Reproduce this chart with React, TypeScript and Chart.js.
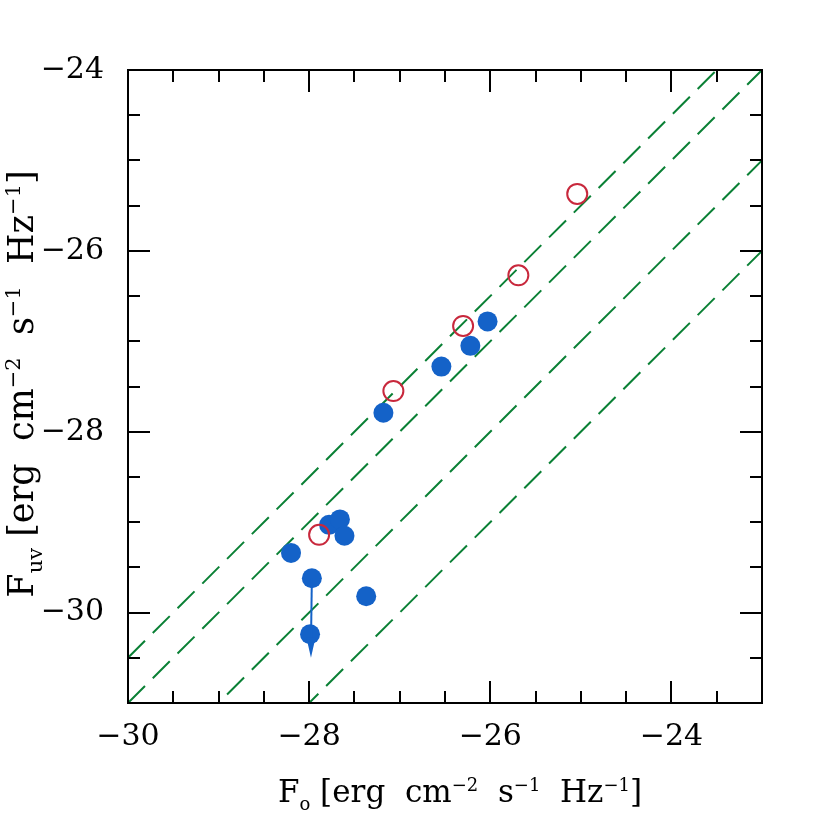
import React, { useEffect, useRef } from 'react';
import { Chart, registerables } from 'chart.js';
Chart.register(...registerables);

// Filled (detected) sources
const detectedX = [-27.18, -26.54, -26.22, -26.03, -28.2, -27.97, -27.99, -27.78, -27.66, -27.61, -27.37];
const detectedY = [-27.79, -27.28, -27.05, -26.78, -29.34, -29.62, -30.24, -29.03, -28.97, -29.15, -29.82];
// Open circles
const openX = [-25.04, -25.69, -26.3, -27.07, -27.89];
const openY = [-25.37, -26.27, -26.83, -27.55, -29.14];
// Dashed reference lines: F_UV = F_o + offset
const lineOffsets = [-0.5, -1, -2, -3];
// Axes
const xRange = [-30, -23];
const yRange = [-31, -24];
const xTickLabels = [-30, -28, -26, -24];
const yTickLabels = [-30, -28, -26, -24];
const minorStep = 0.5;
const majorStep = 2;
// Upper-limit arrow
const arrowStart = [-27.97, -29.62];
const arrowEnd = [-27.98, -30.5];

const BLUE = '#1462C8';
const RED = '#C8283C';
const GREEN = '#0A8035';
const FONT = '"DejaVu Serif", serif';

const fmt = (v: number) => (v < 0 ? '\u2212' + Math.abs(v) : String(v));

const unitSegs = (B: number, S: number, up: number) => [
  { t: ' [erg  cm', size: B, dy: 0 }, { t: '\u22122', size: S, dy: -up },
  { t: '  s', size: B, dy: 0 }, { t: '\u22121', size: S, dy: -up },
  { t: '  Hz', size: B, dy: 0 }, { t: '\u22121', size: S, dy: -up },
  { t: ']', size: B, dy: 0 },
];

const framePlugin = {
  id: 'frameTicks',
  afterDraw(chart: any) {
    const { ctx, chartArea: a, scales } = chart;
    const xs = scales.x, ys = scales.y;
    ctx.save();
    ctx.strokeStyle = '#000';
    ctx.lineWidth = 2;
    ctx.strokeRect(a.left, a.top, a.right - a.left, a.bottom - a.top);
    ctx.beginPath();
    for (let v = xRange[0]; v <= xRange[1] + 1e-9; v += minorStep) {
      const major = Math.abs(v / majorStep - Math.round(v / majorStep)) < 1e-6;
      const len = major ? 22 : 12;
      const px = Math.round(xs.getPixelForValue(v));
      ctx.moveTo(px, a.bottom); ctx.lineTo(px, a.bottom - len);
      ctx.moveTo(px, a.top); ctx.lineTo(px, a.top + len);
    }
    for (let v = yRange[0]; v <= yRange[1] + 1e-9; v += minorStep) {
      const major = Math.abs(v / majorStep - Math.round(v / majorStep)) < 1e-6;
      const len = major ? 22 : 12;
      const py = Math.round(ys.getPixelForValue(v));
      ctx.moveTo(a.left, py); ctx.lineTo(a.left + len, py);
      ctx.moveTo(a.right, py); ctx.lineTo(a.right - len, py);
    }
    ctx.stroke();

    // axis titles with sub/superscripts
    const drawRich = (segs: any[], cx: number, cy: number, rot: number) => {
      ctx.save();
      ctx.translate(cx, cy);
      ctx.rotate(rot);
      ctx.fillStyle = '#000';
      ctx.textBaseline = 'alphabetic';
      ctx.textAlign = 'left';
      let total = 0;
      for (const s of segs) {
        ctx.font = `${s.size}px ${FONT}`;
        total += ctx.measureText(s.t).width;
      }
      let x = -total / 2;
      for (const s of segs) {
        ctx.font = `${s.size}px ${FONT}`;
        ctx.fillText(s.t, x, s.dy);
        x += ctx.measureText(s.t).width;
      }
      ctx.restore();
    };
    drawRich([{ t: 'F', size: 31, dy: 0 }, { t: 'o', size: 18, dy: 8 }, ...unitSegs(31, 18, 11)], 460, 802, 0);
    drawRich([{ t: 'F', size: 35, dy: 0 }, { t: 'uv', size: 21, dy: 9 }, ...unitSegs(35, 21, 13)], 33, 384, -Math.PI / 2);
    ctx.restore();
  },
  afterDatasetsDraw(chart: any) {
    const { ctx, scales } = chart;
    const x0 = scales.x.getPixelForValue(arrowStart[0]);
    const y0 = scales.y.getPixelForValue(arrowStart[1]);
    const x1 = scales.x.getPixelForValue(arrowEnd[0]);
    const y1 = scales.y.getPixelForValue(arrowEnd[1]);
    ctx.save();
    ctx.strokeStyle = BLUE;
    ctx.fillStyle = BLUE;
    ctx.lineWidth = 2;
    ctx.beginPath();
    ctx.moveTo(x0, y0);
    ctx.lineTo(x1, y1 - 14);
    ctx.stroke();
    ctx.beginPath();
    ctx.moveTo(x1, y1);
    ctx.lineTo(x1 - 4.5, y1 - 20);
    ctx.lineTo(x1 + 4.5, y1 - 20);
    ctx.closePath();
    ctx.fill();
    ctx.restore();
  },
};

export default function App() {
  const ref = useRef<HTMLCanvasElement>(null);
  useEffect(() => {
    const lineSets = lineOffsets.map((c) => ({
      type: 'line' as const,
      data: [
        { x: xRange[0], y: xRange[0] + c },
        { x: xRange[1], y: xRange[1] + c },
      ],
      borderColor: GREEN,
      borderWidth: 2,
      borderDash: [24, 11],
      pointRadius: 0,
      fill: false,
      clip: 0,
      order: 3,
    }));
    const chart = new Chart(ref.current!, {
      type: 'scatter',
      data: {
        datasets: [
          {
            data: openX.map((x, i) => ({ x, y: openY[i] })),
            pointRadius: 10,
            pointBorderWidth: 2,
            pointBackgroundColor: 'rgba(0,0,0,0)',
            pointBorderColor: RED,
            order: 1,
          },
          {
            data: detectedX.map((x, i) => ({ x, y: detectedY[i] })),
            pointRadius: 10,
            pointBorderWidth: 0,
            pointBackgroundColor: BLUE,
            pointBorderColor: BLUE,
            order: 2,
          },
          ...lineSets,
        ] as any,
      },
      options: {
        responsive: false,
        animation: false,
        events: [],
        layout: { padding: { top: 70, right: 68, left: 0, bottom: 0 } },
        plugins: { legend: { display: false }, tooltip: { enabled: false } },
        scales: {
          x: {
            type: 'linear',
            min: xRange[0],
            max: xRange[1],
            afterFit: (s: any) => { s.height = 127; },
            afterBuildTicks: (s: any) => { s.ticks = xTickLabels.map((v) => ({ value: v })); },
            grid: { display: false, drawTicks: false },
            border: { display: false },
            ticks: {
              padding: 16,
              color: '#000',
              font: { family: FONT, size: 30 },
              maxRotation: 0,
              callback: (v: any) => fmt(Number(v)),
            },
          },
          y: {
            type: 'linear',
            min: yRange[0],
            max: yRange[1],
            afterFit: (s: any) => { s.width = 128; },
            afterBuildTicks: (s: any) => { s.ticks = yTickLabels.map((v) => ({ value: v })); },
            grid: { display: false, drawTicks: false },
            border: { display: false },
            ticks: {
              padding: 24,
              color: '#000',
              font: { family: FONT, size: 30 },
              callback: (v: any) => fmt(Number(v)),
            },
          },
        },
      },
      plugins: [framePlugin],
    });
    return () => chart.destroy();
  }, []);
  return (
    <div style={{ position: 'fixed', left: 0, top: 0, width: 830, height: 830, background: '#fff' }}>
      <canvas ref={ref} width={830} height={830} />
    </div>
  );
}
